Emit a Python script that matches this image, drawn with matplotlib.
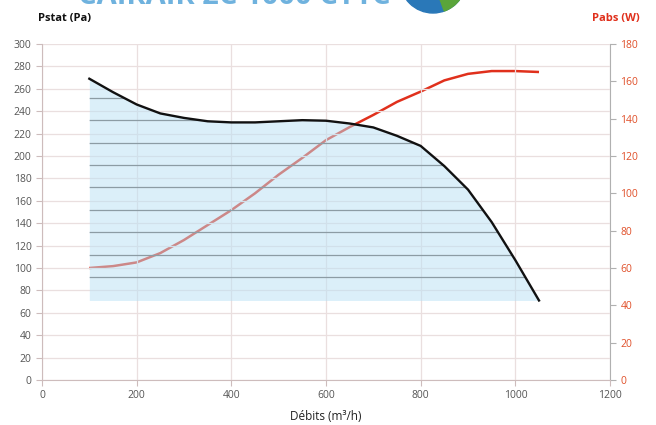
import numpy as np
import matplotlib.pyplot as plt
from matplotlib.patches import Ellipse, Wedge

plt.rcParams['font.family'] = ['Open Sans', 'DejaVu Sans']

# débit (m3/h)
debit = [100, 150, 200, 250, 300, 350, 400, 450, 500, 550, 600,
         650, 700, 750, 800, 850, 900, 950, 1000, 1050]
# pression statique (Pa)
pstat = [269, 257, 246, 238, 234, 231, 230, 230, 231, 232, 231.5,
         229, 225.5, 218, 209, 191, 170, 141, 107, 71]
# puissance absorbée (W)
pabs = [60, 61, 63, 68, 75, 83, 91, 100, 110, 119, 128.5,
        135.5, 142, 149, 154.5, 160.5, 164, 165.5, 165.5, 165]

zone_bas = 71
lignes_zone = [252, 232, 212, 192, 172, 152, 132, 112, 92]

x_ticks = [0, 200, 400, 600, 800, 1000, 1200]
pa_ticks = list(range(0, 301, 20))
w_ticks = list(range(0, 181, 20))

fig = plt.figure(figsize=(6.56, 4.25), dpi=100)
ax1 = fig.add_axes([42 / 656, 45 / 425, 568 / 656, 336 / 425])
ax2 = ax1.twinx()

# red power curve sits below the blue zone
ax1.set_zorder(ax2.get_zorder() + 1)
ax1.patch.set_visible(False)

ax2.plot(debit, pabs, color='#e0301c', lw=1.8, solid_capstyle='butt')
ax2.set_ylim(0, 180)
ax2.set_yticks(w_ticks)

ax1.set_xlim(0, 1200)
ax1.set_ylim(0, 300)
ax1.set_xticks(x_ticks)
ax1.set_yticks(pa_ticks)
ax1.grid(True, color='#eadfdf', lw=0.9)
ax1.set_axisbelow(True)

zone = ax1.fill_between(debit, zone_bas, pstat, color='#b9e1f5', alpha=0.5,
                        lw=0, zorder=2)
hl = ax1.hlines(lignes_zone, debit[0], debit[-1], color='#8c9ca4', lw=0.9,
                zorder=3)
hl.set_clip_path(zone.get_paths()[0], zone.get_transform())
ax1.plot(debit, pstat, color='#111111', lw=1.7, zorder=4)

ax1.spines['top'].set_visible(False)
ax2.spines['top'].set_visible(False)
ax2.spines['left'].set_visible(False)
ax2.spines['bottom'].set_visible(False)
ax1.spines['right'].set_visible(False)
ax1.spines['left'].set_color('#cdbcbc')
ax1.spines['bottom'].set_color('#cdbcbc')
ax2.spines['right'].set_color('#b0b0b0')

ax1.tick_params(axis='both', colors='#cdbcbc', labelcolor='#555555',
                labelsize=7.5, length=4, width=0.8)
ax2.tick_params(axis='y', colors='#b0b0b0', labelcolor='#e0502a',
                labelsize=7.5, length=4, width=0.8)

ax1.set_xlabel('Débits (m³/h)', fontsize=8.5, color='#222222', labelpad=6)

fig.text(38 / 656, 1 - 18 / 425, 'Pstat (Pa)', fontsize=8, fontweight='bold',
         color='#111111', va='center', ha='left')
fig.text(640 / 656, 1 - 18 / 425, 'Pabs (W)', fontsize=8, fontweight='bold',
         color='#e0301c', va='center', ha='right')

# titre coupé en haut de l'image
fig.text(78 / 656, 1 - 4 / 425, 'CAIRAIR 2C 1000 CTTC', fontsize=21,
         fontweight='bold', color='#6fb2de', va='baseline', ha='left')
centre = (433 / 656, 1 + 20 / 425)
fig.patches.append(Ellipse(centre, 66 / 656, 66 / 425,
                           transform=fig.transFigure, color='#2a78b8'))
fig.patches.append(Wedge((433, 425 + 20), 33, 290, 360, width=None,
                         transform=None, color='#5aa53a'))

fig.savefig('out.png', dpi=100)
